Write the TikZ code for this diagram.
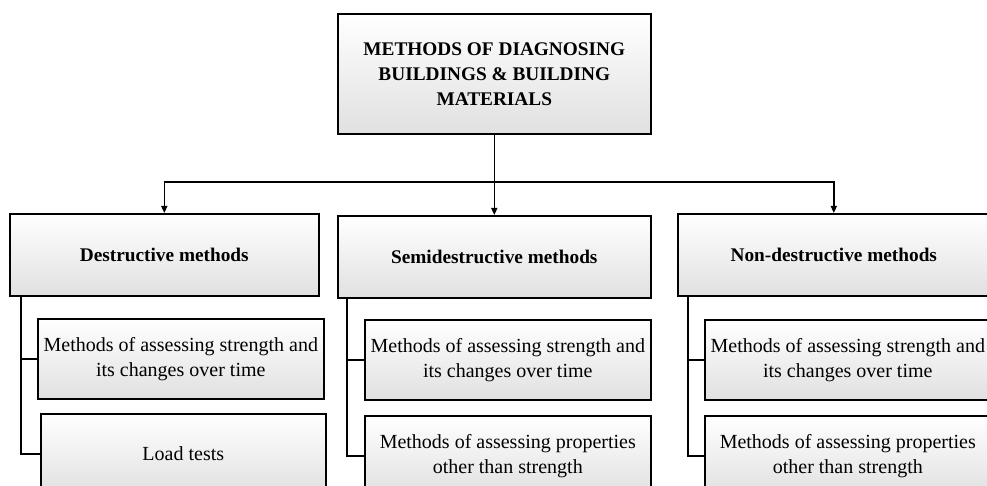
\documentclass[tikz,border=0pt]{standalone}
\usepackage{fontspec}
\setmainfont{Liberation Serif}
\usetikzlibrary{arrows.meta}
\begin{document}
\begin{tikzpicture}[x=1pt,y=-1pt,
  box/.style={draw=black, line width=1.6pt, top color=white, bottom color=black!12,
    inner sep=0pt, align=center, anchor=north west, font=\fontsize{20}{25}\selectfont},
  head/.style={box, font=\fontsize{19.3}{25}\selectfont\bfseries},
  conn/.style={line width=1.6pt},
  arr/.style={conn, -{Triangle[length=7pt,width=6pt]}}]
\useasboundingbox (0,0) rectangle (987,486);
\clip (0,0) rectangle (987,486);
\node[head, minimum width=313, minimum height=120] (top) at (337,13)
  {METHODS OF DIAGNOSING\\BUILDINGS \& BUILDING\\MATERIALS};
\node[head, minimum width=309, minimum height=82] (D) at (9,213) {Destructive methods};
\node[head, minimum width=313, minimum height=82] (S) at (337,215) {Semidestructive methods};
\node[head, minimum width=312, minimum height=82] (N) at (677,213) {Non-destructive methods};
\node[box, minimum width=286, minimum height=80] (D1) at (37,318)
  {Methods of assessing strength and\\its changes over time};
\node[box, minimum width=285, minimum height=80] (D2) at (40,413) {Load tests};
\node[box, minimum width=286, minimum height=80] (S1) at (364,319)
  {Methods of assessing strength and\\its changes over time};
\node[box, minimum width=286, minimum height=80] (S2) at (364,415)
  {Methods of assessing properties\\other than strength};
\node[box, minimum width=286, minimum height=80] (N1) at (704,319)
  {Methods of assessing strength and\\its changes over time};
\node[box, minimum width=286, minimum height=80] (N2) at (704,415)
  {Methods of assessing properties\\other than strength};
\coordinate (bus) at (top.south |- 0,182);
\draw[conn] (top.south) -- (bus);
\draw[arr] (bus) -| (D.north);
\draw[arr] (bus) -- (S.north);
\draw[arr] (bus) -| (N.north);
\coordinate (dt) at (21,295);
\coordinate (st) at (347,297);
\coordinate (nt) at (688,295);
\draw[conn] (dt) |- (D1.west);
\draw[conn] (dt) |- (D2.west);
\draw[conn] (st) |- (S1.west);
\draw[conn] (st) |- (S2.west);
\draw[conn] (nt) |- (N1.west);
\draw[conn] (nt) |- (N2.west);
\end{tikzpicture}
\end{document}
